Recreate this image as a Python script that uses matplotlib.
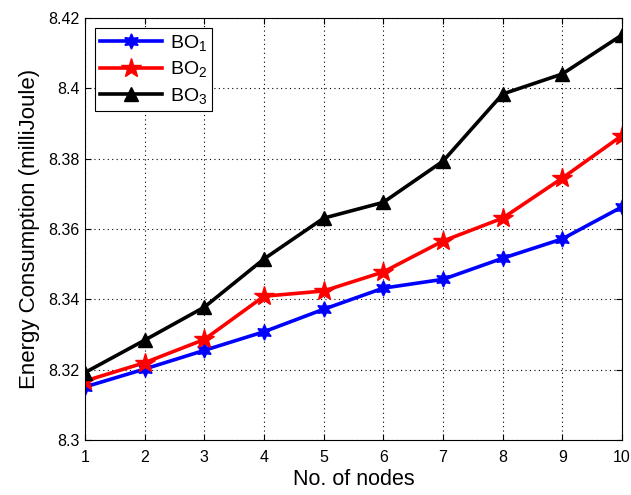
import numpy as np
import matplotlib
matplotlib.use("Agg")
matplotlib.rcParams["font.family"] = "Liberation Sans"
matplotlib.rcParams["mathtext.fontset"] = "custom"
matplotlib.rcParams["mathtext.rm"] = "Liberation Sans"
matplotlib.rcParams["mathtext.it"] = "Liberation Sans"
import matplotlib.pyplot as plt

nodes = np.arange(1, 11)
bo1 = [8.3151, 8.3202, 8.3255, 8.3308, 8.3372, 8.3432, 8.3457, 8.3517, 8.3572, 8.3663]
bo2 = [8.3168, 8.3220, 8.3286, 8.3409, 8.3424, 8.3478, 8.3566, 8.3631, 8.3745, 8.3866]
bo3 = [8.3192, 8.3284, 8.3378, 8.3515, 8.3631, 8.3676, 8.3793, 8.3984, 8.4041, 8.4152]

fig = plt.figure(figsize=(6.31, 4.95), dpi=100)
ax = fig.add_axes([0.1347, 0.111, 0.851, 0.8525])

ax.plot(nodes, bo1, color="blue", lw=2.6, marker=(6, 1, 0), markersize=11, label="BO$_1$")
ax.plot(nodes, bo2, color="red", lw=2.6, marker="*", markersize=15, label="BO$_2$")
ax.plot(nodes, bo3, color="black", lw=2.6, marker="^", markersize=10, label="BO$_3$")

ax.set_xlim(1, 10)
ax.set_ylim(8.3, 8.42)
ax.set_xticks(nodes)
ax.set_yticks([8.3, 8.32, 8.34, 8.36, 8.38, 8.4, 8.42])
ax.set_yticklabels(["8.3", "8.32", "8.34", "8.36", "8.38", "8.4", "8.42"])
ax.tick_params(direction="in", labelsize=11.5, top=True, right=True, length=4)
ax.tick_params(axis="x", pad=7)
ax.tick_params(axis="y", pad=4)
ax.grid(True, color="black", linestyle=(0, (1, 3)), linewidth=0.8)

ax.set_xlabel("No. of nodes", fontsize=15.5, labelpad=3)
ax.set_ylabel("Energy Consumption (milliJoule)", fontsize=16, labelpad=6)

leg = ax.legend(loc="upper left", fontsize=14, fancybox=False, framealpha=1,
                edgecolor="black", handlelength=3.2, borderaxespad=0.5,
                borderpad=0.25, labelspacing=0.35, handletextpad=0.4)
leg.get_frame().set_linewidth(0.8)

plt.savefig("out.png", dpi=100)
